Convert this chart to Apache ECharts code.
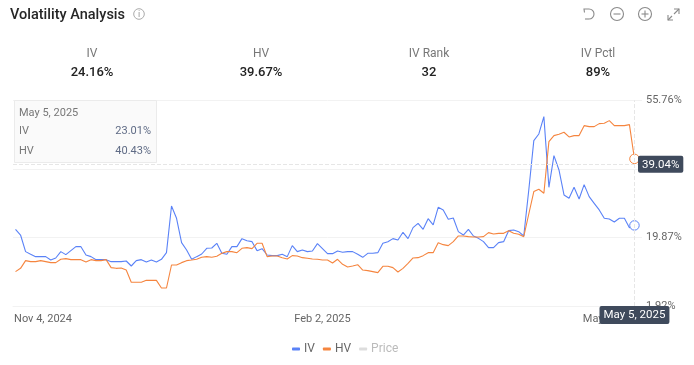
<!DOCTYPE html>
<html><head><meta charset="utf-8">
<style>html,body{margin:0;padding:0;background:#fff}#c{width:694px;height:365px}</style>
<script src="https://cdn.jsdelivr.net/npm/echarts@6/dist/echarts.min.js"></script>
</head><body><div id="c"></div>
<script>
const ivValues = [21.99,20.5,16.15,15.45,14.84,14.84,14.84,13.96,14.49,16.15,15.36,16.41,17.45,17.45,15.27,14.84,14.05,14.05,14.05,13.53,13.53,
13.53,13.7,12.39,13.79,14.05,13.44,13.96,13.44,14.14,15.88,28.1,24.87,18.5,16.58,14.14,14.84,15.53,17.02,17.1,18.33,15.71,15.45,
17.45,17.45,19.55,19.02,18.76,16.41,16.93,15.27,15.1,15.1,15.45,14.84,17.72,16.15,16.58,16.15,16.32,18.24,16.93,15.62,15.62,16.32,
15.97,16.15,16.15,15.45,14.66,15.71,15.71,15.88,18.33,18.76,19.55,19.2,21.21,19.55,22.43,23.56,21.99,24.78,23.13,27.75,27.05,24.61,
24.96,21.38,20.5,21.99,20.25,19.63,18.76,17.19,17.19,18.5,18.76,21.64,21.82,21.38,20.25,
32.29,45.2,46.95,51.49,32.99,41.28,37.53,30.98,30.11,32.99,29.94,33.69,30.55,28.8,27.06,24.87,24.7,23.91,24.87,24.87,22.43,23.01];
const hvValues = [10.91,11.78,13.79,13.53,13.53,13.79,13.53,13.27,13.27,14.14,14.31,14.05,14.05,14.05,13.44,14.05,13.79,13.79,14.05,11.96,11.78,
11.87,11.34,8.12,8.12,8.12,8.64,8.64,8.64,6.63,6.63,12.65,12.65,13.27,13.79,13.96,14.14,14.66,14.84,14.66,14.92,15.71,16.15,
16.15,15.88,17.02,17.19,16.93,18.33,18.33,14.84,15.01,15.01,14.57,14.23,15.1,15.01,14.57,14.4,14.23,14.14,13.96,13.96,13.18,14.14,
12.83,12.13,12.39,12.74,11.34,11.17,10.91,10.65,12.31,12.31,11.96,10.82,11.78,13.09,14.49,14.57,15.1,15.88,15.88,18.5,17.98,17.72,
18.76,20.25,20.25,20.07,19.98,19.98,20.07,21.12,20.77,20.94,20.94,21.64,20.94,20.68,20.07,
26.0,31.86,32.47,31.42,44.94,46.52,46.86,47.39,46.17,46.52,46.52,49.13,48.87,48.87,49.66,49.74,50.44,49.13,49.13,49.13,49.4,40.43];
const priceValues = [];
const xTickLabels = {0:'Nov 4, 2024', 61:'Feb 2, 2025', 123:'May 5, 2025'};
const yTicks = [1.92, 19.87, 37.81, 55.76];
const crosshairValue = 39.04;
const statNames = ['IV','HV','IV Rank','IV Pctl'];
const statValues = ['24.16%','39.67%','32','89%'];
const categories = ivValues.map((_, i) => String(i)).concat(['']);
const lastIndex = ivValues.length - 1;

const F = 'Roboto, sans-serif';
const IVC = '#5a82f7', HVC = '#f5853f', GREY = '#8a8a8a';
const statX = [92, 261, 429, 598];

const graphics = [
  {type:'text', x:10, y:7.5, style:{text:'Volatility Analysis', font:'500 14.5px '+F, fill:'#262626'}},
  {type:'circle', shape:{cx:139,cy:14,r:5.3}, style:{fill:'none', stroke:'#aaa', lineWidth:1}},
  {type:'text', x:139, y:14.5, style:{text:'i', font:'9px '+F, fill:'#999', align:'center', verticalAlign:'middle'}},
  {type:'polyline', shape:{points:[[584.5,12.5],[584,9],[589,9]]}, style:{fill:'none', stroke:GREY, lineWidth:1.1}},
  {type:'arc', shape:{cx:589,cy:14,r:5,startAngle:-Math.PI/2,endAngle:Math.PI/2,clockwise:true}, style:{fill:'none', stroke:GREY, lineWidth:1.1}},
  {type:'line', shape:{x1:589,y1:19,x2:585,y2:19}, style:{stroke:GREY, lineWidth:1.1}},
  {type:'circle', shape:{cx:617,cy:14,r:6.5}, style:{fill:'none', stroke:GREY, lineWidth:1.1}},
  {type:'line', shape:{x1:613.5,y1:14,x2:620.5,y2:14}, style:{stroke:GREY, lineWidth:1.1}},
  {type:'circle', shape:{cx:645,cy:14,r:6.5}, style:{fill:'none', stroke:GREY, lineWidth:1.1}},
  {type:'line', shape:{x1:641.5,y1:14,x2:648.5,y2:14}, style:{stroke:GREY, lineWidth:1.1}},
  {type:'line', shape:{x1:645,y1:10.5,x2:645,y2:17.5}, style:{stroke:GREY, lineWidth:1.1}},
  {type:'polyline', shape:{points:[[674,9],[679,9],[679,14]]}, style:{fill:'none', stroke:GREY, lineWidth:1.1}},
  {type:'line', shape:{x1:679,y1:9,x2:674,y2:14}, style:{stroke:GREY, lineWidth:1.1}},
  {type:'polyline', shape:{points:[[668,15],[668,20],[673,20]]}, style:{fill:'none', stroke:GREY, lineWidth:1.1}},
  {type:'line', shape:{x1:668,y1:20,x2:672,y2:16}, style:{stroke:GREY, lineWidth:1.1}},
];
statNames.forEach((n, i) => {
  graphics.push({type:'text', x:statX[i], y:54, style:{text:n, font:'12px '+F, fill:'#777', align:'center', verticalAlign:'middle'}});
  graphics.push({type:'text', x:statX[i], y:72.5, style:{text:statValues[i], font:'500 13px '+F, fill:'#222', align:'center', verticalAlign:'middle'}});
});
graphics.push(
  {type:'rect', z:50, shape:{x:14.5,y:100.5,width:142,height:62}, style:{fill:'#fafafa', stroke:'#ebebeb', lineWidth:1}},
  {type:'text', z:51, x:19, y:113.5, style:{text:xTickLabels[123], font:'11px '+F, fill:'#777', verticalAlign:'middle'}},
  {type:'text', z:51, x:19, y:131.5, style:{text:'IV', font:'11px '+F, fill:'#777', verticalAlign:'middle'}},
  {type:'text', z:51, x:19, y:151.5, style:{text:'HV', font:'11px '+F, fill:'#777', verticalAlign:'middle'}},
  {type:'text', z:51, x:151, y:131.5, style:{text:ivValues[lastIndex].toFixed(2)+'%', font:'11px '+F, fill:'#5f6b85', align:'right', verticalAlign:'middle'}},
  {type:'text', z:51, x:151, y:151.5, style:{text:hvValues[lastIndex].toFixed(2)+'%', font:'11px '+F, fill:'#5f6b85', align:'right', verticalAlign:'middle'}}
);

const endPoint = (val, col) => ({
  symbol:'circle', symbolSize:9.5, silent:true, animation:false,
  itemStyle:{color:'#fff', borderColor:col, borderWidth:1},
  label:{show:false},
  data:[{coord:[lastIndex, val]}]
});
const tag = {show:true, backgroundColor:'#3f4a5c', color:'#fff', fontFamily:F, fontSize:11.5, borderRadius:2};
const chart = echarts.init(document.getElementById('c'), null, {renderer:'canvas'});
chart.setOption({
  animation:false,
  textStyle:{fontFamily:F},
  grid:{left:13, width:629, top:100.3, height:205.7},
  legend:{left:287, top:338, itemWidth:8, itemHeight:3, itemGap:8, icon:'roundRect', selectedMode:false,
    textStyle:{fontSize:12, color:'#666', fontFamily:F, padding:[0,0,0,-1]},
    data:[{name:'IV'},{name:'HV'},{name:'Price', textStyle:{color:'#bbb'}, itemStyle:{color:'#ddd'}}]},
  xAxis:{type:'category', data:categories, boundaryGap:true,
    axisLine:{show:true, lineStyle:{color:'#f2f2f2'}}, axisTick:{show:false}, splitLine:{show:false},
    axisLabel:{color:'#666', fontSize:11, fontFamily:F, margin:8,
      interval:(i)=>i in xTickLabels,
      formatter:(v,i)=> i===lastIndex ? '{end|'+xTickLabels[i]+'}' : (i===0 ? '{start|'+xTickLabels[i]+'}' : (xTickLabels[i]||'')),
      rich:{end:{padding:[0,44,0,0], color:'#666', fontSize:11, fontFamily:F},
            start:{padding:[0,0,0,55], color:'#666', fontSize:11, fontFamily:F}}},
    axisPointer:{show:true, status:'show', value:lastIndex, type:'line', snap:false, triggerOn:'none',
      lineStyle:{color:'#e6e6e6', type:'dashed', width:1},
      label:Object.assign({}, tag, {margin:0, formatter:()=>xTickLabels[123], padding:[3,4,3,4]})}},
  yAxis:{type:'value', position:'right', min:yTicks[0], max:yTicks[3],
    axisLine:{show:false}, axisTick:{show:false, customValues:yTicks},
    splitLine:{show:true, lineStyle:{color:'#f2f2f2', width:1}},
    axisLabel:{customValues:yTicks, color:'#666', fontSize:11, fontFamily:F, margin:4, lineHeight:13, padding:[4,0,0,0], formatter:(v)=>v.toFixed(2)+'%', showMinLabel:true, showMaxLabel:true},
    axisPointer:{show:true, status:'show', value:crosshairValue, type:'line', snap:false, triggerOn:'none',
      lineStyle:{color:'#e6e6e6', type:'dashed', width:1},
      label:Object.assign({}, tag, {margin:-4, formatter:(p)=>Number(p.value).toFixed(2)+'%', padding:[3,4,2,4]})}},
  series:[
    {name:'IV', type:'line', data:ivValues, showSymbol:false, smooth:false, lineStyle:{color:IVC, width:1.1}, itemStyle:{color:IVC}, markPoint:endPoint(ivValues[lastIndex], IVC)},
    {name:'HV', type:'line', data:hvValues, showSymbol:false, smooth:false, lineStyle:{color:HVC, width:1.1}, itemStyle:{color:HVC}, markPoint:endPoint(hvValues[lastIndex], HVC)},
    {name:'Price', type:'line', data:priceValues, showSymbol:false, lineStyle:{color:'#ddd', width:1}, itemStyle:{color:'#ddd'}}
  ],
  graphic:graphics
});
</script></body></html>
